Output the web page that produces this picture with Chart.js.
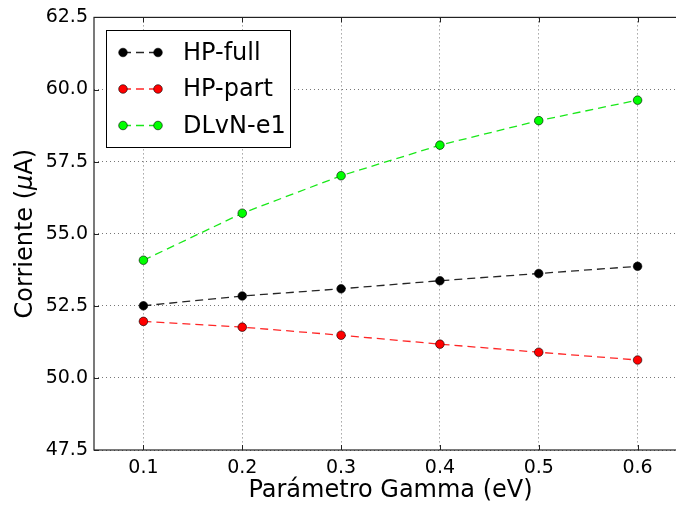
<!DOCTYPE html>
<html>
<head>
<meta charset="utf-8">
<script src="https://cdn.jsdelivr.net/npm/chart.js@4.4.1/dist/chart.umd.min.js"></script>
<style>
  html, body { margin: 0; padding: 0; background: #fff; overflow: hidden; }
  #clip { width: 676px; height: 506px; overflow: hidden; position: relative; }
  #wrap { width: 700px; height: 506px; position: absolute; left: 0; top: 0; }
  canvas { display: block; }
</style>
</head>
<body>
<div id="clip"><div id="wrap"><canvas id="c" width="700" height="506"></canvas></div></div>
<script>
// ---- data ----
const gammaValues = [0.1, 0.2, 0.3, 0.4, 0.5, 0.6];
const hpFull = [52.50, 52.84, 53.09, 53.37, 53.62, 53.87];
const hpPart = [51.96, 51.76, 51.48, 51.17, 50.89, 50.62];
const dlvnE1 = [54.08, 55.71, 57.01, 58.07, 58.92, 59.63];
const seriesNames = ['HP-full', 'HP-part', 'DLvN-e1'];
const xTicks = [0.1, 0.2, 0.3, 0.4, 0.5, 0.6];
const yTicks = [47.5, 50.0, 52.5, 55.0, 57.5, 60.0, 62.5];
const xTitle = 'Parámetro Gamma (eV)';
const yTitleParts = ['Corriente (', 'μ', 'A)'];

const FONT = '"DejaVu Sans", sans-serif';
const colors = ['#000000', '#ff0000', '#00ff00'];
const lineColors = ['rgba(0,0,0,0.85)', 'rgba(255,0,0,0.85)', 'rgba(0,230,0,0.9)'];
const allSeries = [hpFull, hpPart, dlvnE1];

const datasets = allSeries.map((vals, i) => ({
  label: seriesNames[i],
  data: gammaValues.map((g, j) => ({ x: g, y: vals[j] })),
  borderColor: lineColors[i],
  borderWidth: 1.3,
  borderDash: [8, 5],
  backgroundColor: colors[i],
  pointBackgroundColor: colors[i],
  pointBorderColor: '#000',
  pointBorderWidth: 0.6,
  pointRadius: 4.3,
  fill: false,
  tension: 0
}));

const framePlugin = {
  id: 'frame',
  afterDatasetsDraw(chart) {
    const { ctx, chartArea: a, scales } = chart;
    ctx.save();
    ctx.setLineDash([]);
    ctx.strokeStyle = '#222';
    ctx.lineWidth = 1.2;
    ctx.strokeRect(a.left, a.top, a.right - a.left, a.bottom - a.top);
    const L = 5;
    ctx.lineWidth = 1;
    ctx.beginPath();
    scales.x.ticks.forEach(t => {
      const px = Math.round(scales.x.getPixelForValue(t.value)) + 0.5;
      ctx.moveTo(px, a.bottom); ctx.lineTo(px, a.bottom - L);
      ctx.moveTo(px, a.top); ctx.lineTo(px, a.top + L);
    });
    scales.y.ticks.forEach(t => {
      const py = Math.round(scales.y.getPixelForValue(t.value)) + 0.5;
      ctx.moveTo(a.left, py); ctx.lineTo(a.left + L, py);
      ctx.moveTo(a.right, py); ctx.lineTo(a.right - L, py);
    });
    ctx.stroke();
    ctx.restore();
  },
  afterDraw(chart) {
    const { ctx, chartArea: a } = chart;
    ctx.save();
    ctx.fillStyle = '#000';
    ctx.textBaseline = 'middle';
    ctx.textAlign = 'center';
    ctx.font = '24px ' + FONT;
    ctx.fillText(xTitle, (a.left + a.right) / 2, 491);
    ctx.translate(26, (a.top + a.bottom) / 2);
    ctx.rotate(-Math.PI / 2);
    const fonts = ['24px ' + FONT, 'italic 24px ' + FONT, '24px ' + FONT];
    const widths = yTitleParts.map((s, i) => { ctx.font = fonts[i]; return ctx.measureText(s).width; });
    const total = widths.reduce((p, c) => p + c, 0);
    let x = -total / 2;
    ctx.textAlign = 'left';
    yTitleParts.forEach((s, i) => { ctx.font = fonts[i]; ctx.fillText(s, x, 0); x += widths[i]; });
    ctx.restore();

    // legend
    ctx.save();
    const bx = 106.5, by = 30.5, bw = 184, bh = 117;
    ctx.fillStyle = '#fff';
    ctx.fillRect(bx, by, bw, bh);
    ctx.strokeStyle = '#000';
    ctx.lineWidth = 1;
    ctx.strokeRect(bx, by, bw, bh);
    chart.data.datasets.forEach((ds, i) => {
      const y = 52.5 + i * 36.5;
      const x1 = 123, x2 = 158;
      ctx.setLineDash(ds.borderDash);
      ctx.strokeStyle = ds.borderColor;
      ctx.lineWidth = ds.borderWidth;
      ctx.beginPath(); ctx.moveTo(x1, y); ctx.lineTo(x2, y); ctx.stroke();
      ctx.setLineDash([]);
      [x1, x2].forEach(px => {
        ctx.beginPath();
        ctx.arc(px, y, ds.pointRadius, 0, Math.PI * 2);
        ctx.fillStyle = ds.pointBackgroundColor;
        ctx.fill();
        ctx.lineWidth = ds.pointBorderWidth;
        ctx.strokeStyle = ds.pointBorderColor;
        ctx.stroke();
      });
      ctx.fillStyle = '#000';
      ctx.font = '24px ' + FONT;
      ctx.textAlign = 'left';
      ctx.textBaseline = 'middle';
      ctx.fillText(ds.label, 183, y + 1);
    });
    ctx.restore();
  }
};

new Chart(document.getElementById('c'), {
  type: 'line',
  data: { datasets },
  options: {
    responsive: false,
    animation: false,
    devicePixelRatio: 1,
    layout: { padding: { top: 17, right: 13, left: 0, bottom: 0 } },
    plugins: { legend: { display: false }, tooltip: { enabled: false } },
    scales: {
      x: {
        type: 'linear',
        min: 0.05,
        max: 0.65,
        afterBuildTicks: s => { s.ticks = xTicks.map(v => ({ value: v })); },
        afterFit: s => { s.height = 56; },
        ticks: {
          color: '#000',
          font: { family: FONT, size: 19 },
          padding: 7,
          maxRotation: 0,
          callback: v => String(v)
        },
        grid: { color: '#777', lineWidth: 1, drawTicks: false },
        border: { display: false, dash: [1, 3] }
      },
      y: {
        type: 'linear',
        min: 47.5,
        max: 62.5,
        afterBuildTicks: s => { s.ticks = yTicks.map(v => ({ value: v })); },
        afterFit: s => { s.width = 94; },
        ticks: {
          color: '#000',
          font: { family: FONT, size: 19 },
          padding: 6,
          callback: v => Number(v).toFixed(1)
        },
        grid: { color: '#777', lineWidth: 1, drawTicks: false },
        border: { display: false, dash: [1, 3] }
      }
    }
  },
  plugins: [framePlugin]
});
</script>
</body>
</html>
